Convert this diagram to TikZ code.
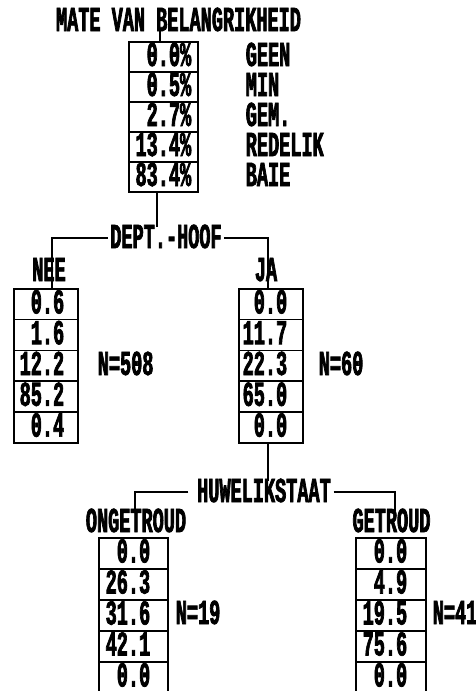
\documentclass[tikz,border=0pt]{standalone}
\usepackage{fontspec}
\newfontfamily\dotm[FakeStretch=0.53,FakeBold=2,UprightFont={* Bold}]{Liberation Mono}
\begin{document}
\begin{tikzpicture}[x=1pt,y=-1pt,line width=1.6pt,
  txt/.style={font=\dotm\fontsize{35}{35}\selectfont,inner sep=0pt,text height=20pt,text depth=0pt},
  cellbox/.style={draw,line width=1.6pt,anchor=north west,inner sep=0pt,minimum width=#1},
  val/.style={txt,anchor=east},
  lab/.style={txt,anchor=west}]
\useasboundingbox (0,0) rectangle (476,691);

% title
\node[txt] (title) at (178.5,21) {MATE VAN BELANGRIKHEID};

% top box
\foreach \v/\c [count=\i from 0] in {0.0\%/GEEN,0.5\%/MIN,2.7\%/GEM.,13.4\%/REDELIK,83.4\%/BAIE}{
  \node[cellbox=69,minimum height=30] (top\i) at (128,{41+30*\i}) {};
  \node[val] (topv\i) at (192,{56+30*\i}) {\v};
  \node[lab] (cat\i) at (245,{56+30*\i}) {\c};
}
\coordinate (tA) at (160,30);
\draw (tA) -- (tA |- top0.north);

% DEPT.-HOOF split
\node[txt] (dept) at (166,238) {DEPT.-HOOF};
\coordinate (bA) at (157,191);
\draw (bA) -- (bA |- dept.north);
\coordinate (neeTop) at (52,288);
\coordinate (jaTop) at (268,288);
\draw ([xshift=-2pt]dept.west) -| (neeTop);
\draw ([xshift=2pt]dept.east) -| (jaTop);
\node[txt] (nee) at (49,271) {NEE};
\node[txt] (ja) at (266,271) {JA};

% NEE box
\foreach \v [count=\i from 0] in {0.6,1.6,12.2,85.2,0.4}{
  \node[cellbox=64,minimum height=30.8] (nee\i) at (13,{288+30.8*\i}) {};
  \node[val] (neev\i) at (65,{303.4+30.8*\i}) {\v};
}
\node[lab] (neeN) at (97,365) {N=508};

% JA box
\foreach \v [count=\i from 0] in {0.0,11.7,22.3,65.0,0.0}{
  \node[cellbox=64,minimum height=30.8] (ja\i) at (238,{288+30.8*\i}) {};
  \node[val] (jav\i) at (288,{303.4+30.8*\i}) {\v};
}
\node[lab] (jaN) at (318,365) {N=60};

% HUWELIKSTAAT split
\node[txt] (huw) at (264,492) {HUWELIKSTAAT};
\coordinate (jB) at (268,442);
\draw (jB) -- (jB |- huw.north);
\coordinate (ongTop) at (135,511);
\coordinate (getTop) at (395,511);
\draw ([xshift=-8pt]huw.west) -| (ongTop);
\draw ([xshift=2pt]huw.east) -| (getTop);
\node[txt] (ong) at (136,522) {ONGETROUD};
\node[txt] (get) at (391.5,522) {GETROUD};

% ONGETROUD box
\foreach \v [count=\i from 0] in {0.0,26.3,31.6,42.1,0.0}{
  \node[cellbox=69,minimum height=31] (ong\i) at (98,{537+31*\i}) {};
  \node[val] (ongv\i) at (151,{552.5+31*\i}) {\v};
}
\node[lab] (ongN) at (175,614) {N=19};

% GETROUD box
\foreach \v [count=\i from 0] in {0.0,4.9,19.5,75.6,0.0}{
  \node[cellbox=70,minimum height=31] (get\i) at (355,{537+31*\i}) {};
  \node[val] (getv\i) at (408,{552.5+31*\i}) {\v};
}
\node[lab] (getN) at (432,614) {N=41};
\end{tikzpicture}
\end{document}
